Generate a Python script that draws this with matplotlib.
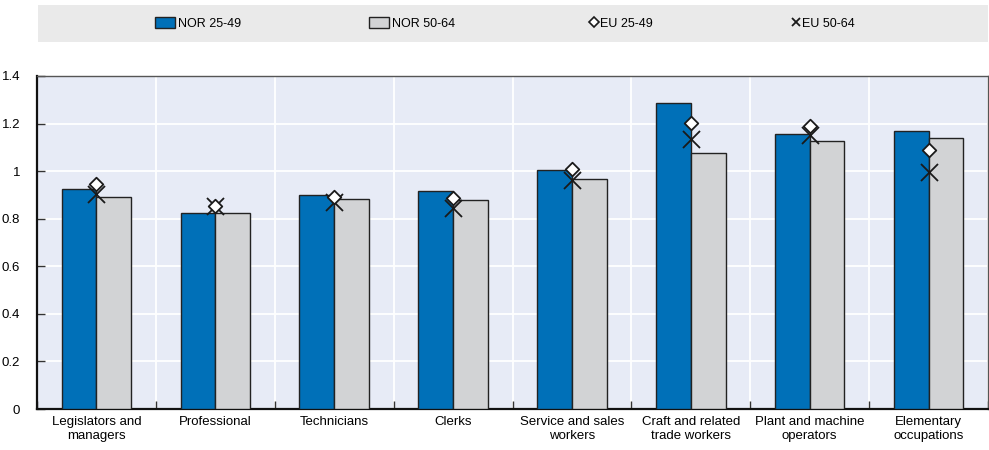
import matplotlib
matplotlib.use("Agg")
import matplotlib.pyplot as plt
from matplotlib.patches import Rectangle, Patch
from matplotlib.lines import Line2D
from matplotlib import font_manager
import numpy as np

categories = ["Legislators and\nmanagers", "Professional", "Technicians", "Clerks",
              "Service and sales\nworkers", "Craft and related\ntrade workers",
              "Plant and machine\noperators", "Elementary\noccupations"]
nor_25_49 = [0.925, 0.826, 0.898, 0.918, 1.005, 1.286, 1.156, 1.170]
nor_50_64 = [0.891, 0.826, 0.882, 0.877, 0.969, 1.076, 1.128, 1.141]
eu_25_49 = [0.947, 0.854, 0.892, 0.887, 1.010, 1.202, 1.188, 1.087]
eu_50_64 = [0.905, 0.855, 0.872, 0.845, 0.961, 1.136, 1.153, 0.996]
series_names = ["NOR 25-49", "NOR 50-64", "EU 25-49", "EU 50-64"]
yticks = [0, 0.2, 0.4, 0.6, 0.8, 1, 1.2, 1.4]
ytick_labels = ["0", "0.2", "0.4", "0.6", "0.8", "1", "1.2", "1.4"]

names = {f.name for f in font_manager.fontManager.ttflist}
fam = ["Liberation Sans Narrow"] if "Liberation Sans Narrow" in names else ["Liberation Sans"]
plt.rcParams["font.family"] = fam + ["DejaVu Sans"]
plt.rcParams["font.size"] = 9

BLUE = "#0070B8"
GRAY = "#D2D3D5"
BG = "#E7EBF6"

W, H = 989, 450
fig = plt.figure(figsize=(W / 100, H / 100), dpi=100)
ax = fig.add_axes([37 / W, 1 - 409 / H, 951 / W, 333 / H])
ax.set_facecolor(BG)

x = np.arange(len(categories))
bw = 0.292
ax.bar(x - bw / 2, nor_25_49, bw, color=BLUE, edgecolor="#222222", linewidth=1.0, zorder=3)
ax.bar(x + bw / 2, nor_50_64, bw, color=GRAY, edgecolor="#222222", linewidth=1.0, zorder=3)
ax.scatter(x, eu_50_64, marker="x", s=150, color="#1a1a1a", linewidths=1.3, zorder=5)
ax.scatter(x, eu_25_49, marker="D", s=48, facecolor="white", edgecolor="#1a1a1a", linewidths=1.3, zorder=6)

ax.set_xlim(-0.5, len(categories) - 0.5)
ax.set_ylim(0, 1.4)
ax.set_yticks(yticks)
ax.set_yticklabels(ytick_labels, fontsize=9.5)
ax.set_xticks(x)
ax.set_xticklabels(categories, linespacing=1.25, fontsize=9.5)
ax.set_xticks(np.arange(len(categories) + 1) - 0.5, minor=True)
ax.tick_params(axis="x", which="major", length=0, pad=5)
ax.tick_params(axis="x", which="minor", direction="in", length=6, width=1, color="#333333")
ax.tick_params(axis="y", direction="in", length=6, width=1, color="#333333", pad=12)
for lab in ax.get_yticklabels():
    lab.set_horizontalalignment("right")

ax.grid(True, which="minor", axis="x", color="white", linewidth=1.3, zorder=0)
ax.grid(True, which="major", axis="y", color="white", linewidth=1.3, zorder=0)
ax.set_axisbelow(True)

for s in ["left", "bottom"]:
    ax.spines[s].set_color("#111111")
    ax.spines[s].set_linewidth(1.6)
for s in ["top", "right"]:
    ax.spines[s].set_color("#555555")
    ax.spines[s].set_linewidth(1.0)

# legend band
fig.add_artist(Rectangle((38 / W, 1 - 42 / H), 950 / W, 37 / H, transform=fig.transFigure,
                         facecolor="#EAEAEA", edgecolor="none", zorder=0))
handles = [
    Patch(facecolor=BLUE, edgecolor="#222222", linewidth=1.0),
    Patch(facecolor=GRAY, edgecolor="#222222", linewidth=1.0),
    Line2D([], [], marker="D", linestyle="none", markersize=5, markerfacecolor="white",
           markeredgecolor="#1a1a1a", markeredgewidth=1.2),
    Line2D([], [], marker="x", linestyle="none", markersize=6, color="#1a1a1a", markeredgewidth=1.3),
]
starts = [155, 369, 590, 792]
for h, name, sx in zip(handles, series_names, starts):
    leg = fig.legend([h], [name], loc="center left", bbox_to_anchor=(sx / W, 1 - 23.5 / H),
                     frameon=False, handlelength=1.6 if isinstance(h, Patch) else 0.6,
                     handleheight=0.9, handletextpad=0.2, borderpad=0, borderaxespad=0,
                     fontsize=9)

fig.savefig("out.png", dpi=100)
